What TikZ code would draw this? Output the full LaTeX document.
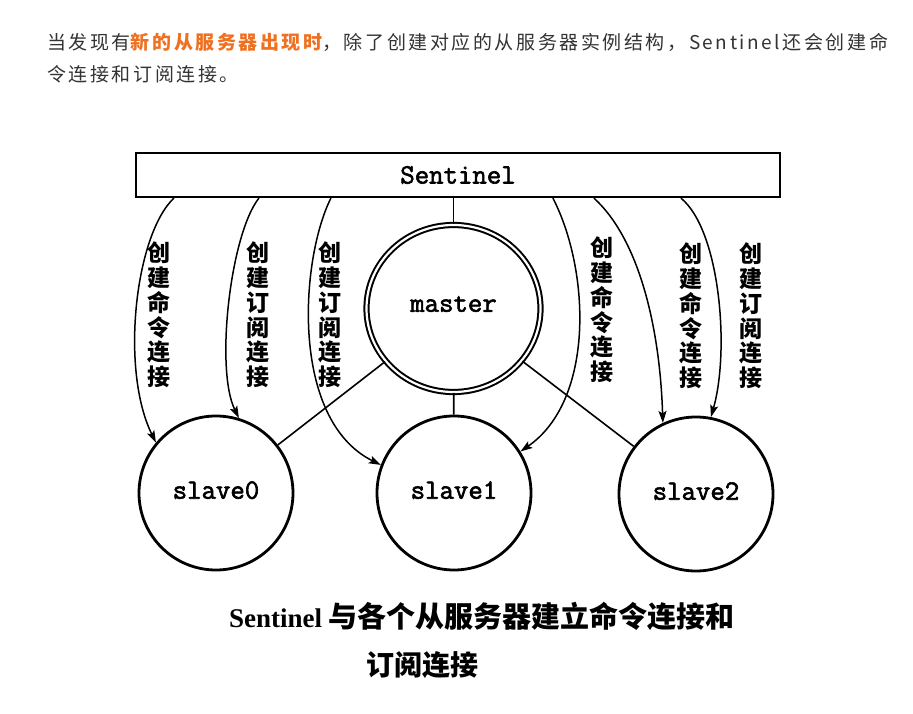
\documentclass[tikz,border=0pt]{standalone}
\usepackage{fontspec}
\usetikzlibrary{arrows.meta,shapes.geometric}
\newfontfamily\cjk{Noto Sans CJK SC}
\newfontfamily\cjksp{Noto Sans CJK SC}[LetterSpace=13.5]
\newfontfamily\capserif{Liberation Serif}
\newfontfamily\monoheavy{Latin Modern Mono}[FakeBold=2.2]
\definecolor{bodytext}{RGB}{51,51,51}
\definecolor{accent}{RGB}{239,112,32}
\begin{document}
\begin{tikzpicture}[x=1pt,y=-1pt,
  sentbox/.style={draw, line width=2.2pt, minimum width=644pt, minimum height=44pt, inner sep=0pt,
    font=\fontsize{28}{30}\selectfont\monoheavy},
  slavenode/.style={circle, draw, line width=2.8pt, minimum size=154pt, inner sep=0pt, text depth=6pt,
    font=\fontsize{28}{30}\selectfont\monoheavy},
  masternode/.style={ellipse, draw, line width=2pt, double=white, double distance=2.2pt,
    minimum width=174pt, minimum height=167pt, inner sep=0pt, text depth=9pt,
    font=\fontsize{28}{30}\selectfont\monoheavy},
  vlabel/.style={font=\cjk\bfseries\fontsize{23}{24.8}\selectfont, align=center, inner sep=0pt},
  conn/.style={line width=1.6pt},
  arr/.style={line width=1.5pt, -{Stealth[length=12pt,width=8pt,inset=2.5pt]}},
  intro/.style={anchor=base west, inner sep=0pt, text=bodytext, font=\cjksp\fontsize{19}{22}\selectfont}
]
\useasboundingbox (0,0) rectangle (913,714);
\fill[white] (0,0) rectangle (913,714);

% intro text
\node[intro] (intro1) at (47,50) {当发现有{\bfseries\color{accent}新的从服务器出现时}，除了创建对应的从服务器实例结构，Sentinel还会创建命};
\node[intro] (intro2) at (47,82) {令连接和订阅连接。};

% nodes
\node[sentbox] (sentinel) at (458,175) {Sentinel};
\node[masternode] (master) at (453.5,308.5) {master};
\node[slavenode] (slave0) at (216,493) {slave0};
\node[slavenode] (slave1) at (454,493) {slave1};
\node[slavenode] (slave2) at (696,494) {slave2};

% plain connectors
\draw[conn] (sentinel.south -| master) -- (master);
\draw[conn] (master) -- (slave1);
\draw[conn] (master) -- (slave0);
\draw[conn] (master) -- (slave2);

% curved arrows
\draw[arr] ([xshift=39pt]sentinel.south west) .. controls (135,235) and (120,370) .. (slave0.140);
\draw[arr] ([xshift=124pt]sentinel.south west) .. controls (230,235) and (215,370) .. (slave0.73);
\draw[arr] ([xshift=196pt]sentinel.south west) .. controls (300,260) and (290,420) .. (slave1.159);
\draw[arr] ([xshift=418pt]sentinel.south west) .. controls (590,270) and (595,400) .. (slave1.32);
\draw[arr] ([xshift=459pt]sentinel.south west) .. controls (640,240) and (660,330) .. (slave2.115);
\draw[arr] ([xshift=546pt]sentinel.south west) .. controls (720,230) and (730,350) .. (slave2.79);

% vertical labels
\node[vlabel] (l1) at (159,315) {创\\建\\命\\令\\连\\接};
\node[vlabel] (l2) at (258,315) {创\\建\\订\\阅\\连\\接};
\node[vlabel] (l3) at (330,315) {创\\建\\订\\阅\\连\\接};
\node[vlabel] (l4) at (602,310) {创\\建\\命\\令\\连\\接};
\node[vlabel] (l5) at (691,316) {创\\建\\命\\令\\连\\接};
\node[vlabel] (l6) at (751,316) {创\\建\\订\\阅\\连\\接};

% caption
\node[anchor=west, inner sep=0pt] (cap1) at (229,616)
  {{\capserif\bfseries\fontsize{27}{30}\selectfont Sentinel }{\cjk\bfseries\fontsize{29}{32}\selectfont 与各个从服务器建立命令连接和}};
\node[inner sep=0pt, font=\cjk\bfseries\fontsize{28}{30}\selectfont] (cap2) at (422,665) {订阅连接};
\end{tikzpicture}
\end{document}
